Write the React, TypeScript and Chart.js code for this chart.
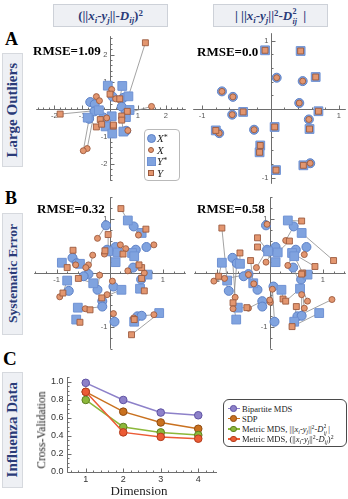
import React, { useEffect, useRef } from "react";
import { Chart, registerables } from "chart.js";
Chart.register(...registerables);

type P = [number, number];

// ---------- Panel A (large outliers): ground truth X*, Y* ----------
const aTrueX: P[] = [[0.09,0.46],[0.47,0.41],[-0.71,0.26],[-0.55,0.18],[0.42,0.09],[-0.56,-0.08],[0.56,-0.15],[-0.75,-0.35],[-0.24,-0.30],[0.58,-0.79]];
const aTrueY: P[] = [[-0.08,0.86],[0.44,0.85],[0.66,0.47],[-0.40,-0.04],[0.70,-0.03],[-0.80,-0.31],[0.06,-0.26],[0.57,-0.29],[-0.15,-0.53],[-0.16,-0.63],[0.48,-0.82],[0.08,-0.89]];
// Panel A left fit (X, Y)
const aFitXLeft: P[] = [[0.06,0.72],[0.30,0.36],[-0.49,0.46],[-0.38,0.31],[0.20,0.38],[-0.82,-1.44],[1.49,0.10],[-0.96,-1.52],[-0.12,-0.32],[0.64,-0.78]];
const aFitYLeft: P[] = [[0.0,0.55],[0.35,0.38],[1.27,2.43],[-1.79,-0.18],[0.62,-0.08],[-0.49,-0.65],[-0.35,-0.38],[0.42,-0.25],[0.12,-0.62],[-0.30,-0.55],[0.42,-0.40],[0.12,-0.58]];
// Panel A right fit (X, Y)
const aFitXRight: P[] = [[0.09,0.46],[0.47,0.41],[-0.71,0.26],[-0.55,0.18],[0.42,0.09],[-0.56,-0.08],[0.56,-0.15],[-0.75,-0.35],[-0.24,-0.30],[0.58,-0.79]];
const aFitYRight: P[] = [[-0.08,0.86],[0.44,0.85],[0.66,0.47],[-0.40,-0.04],[0.70,-0.03],[-0.80,-0.31],[0.06,-0.26],[0.57,-0.29],[-0.15,-0.53],[-0.16,-0.63],[0.48,-0.82],[0.08,-0.89]];

// ---------- Panel B (systematic error): ground truth X*, Y* ----------
const bTrueX: P[] = [[-0.07,0.88],[0.45,0.86],[0.69,0.48],[0.49,0.43],[0.11,0.48],[-0.05,0.43],[-0.70,0.28],[-0.62,0.18],[0.44,0.10],[-0.40,-0.02],[-0.49,-0.06],[0.59,-0.12],[0.07,-0.25],[-0.23,-0.31],[-0.77,-0.33],[-0.14,-0.52],[-0.14,-0.62],[0.09,-0.90],[0.52,-0.80],[0.60,-0.79]];
const bTrueY: P[] = [[0.34,0.97],[0.60,0.74],[-0.03,0.40],[0.15,0.38],[0.42,0.37],[0.46,0.31],[0.11,0.20],[-0.90,0.19],[-0.56,0.17],[0.71,-0.03],[-0.80,-0.14],[-0.31,-0.19],[0.22,-0.31],[0.57,-0.29],[-0.60,-0.64],[-0.63,-0.86],[0.93,-0.74],[0.46,-0.90]];
// Panel B left fit
const bFitXLeft: P[] = [[-0.23,0.64],[0.54,0.70],[0.83,0.52],[0.30,0.45],[0.20,0.52],[-0.10,0.35],[-0.64,0.15],[-0.40,0.15],[0.34,0.04],[-0.32,0.33],[-0.45,0.10],[0.65,0.0],[0.05,-0.15],[-0.19,-0.04],[-0.94,-0.44],[-0.05,-0.40],[-0.46,-0.66],[0.07,-0.75],[0.83,-0.77],[0.45,-0.83]];
const bFitYLeft: P[] = [[0.21,1.19],[0.68,0.81],[-0.03,0.71],[0.25,0.35],[0.60,0.10],[0.55,0.15],[-0.09,0.41],[-0.80,0.10],[-0.69,0.42],[0.60,-0.10],[-0.88,-0.37],[-0.59,-0.10],[-0.15,-0.46],[0.65,-0.33],[-0.37,-0.68],[-0.56,-0.91],[0.41,-1.14],[0.46,-0.86]];
// Panel B right fit
const bFitXRight: P[] = [[-0.05,0.90],[0.30,0.60],[0.65,0.34],[0.34,0.14],[-0.07,0.20],[-0.25,0.10],[-0.65,-0.45],[-0.69,-0.66],[0.71,-0.52],[-1.05,-0.15],[-0.40,-0.03],[0.65,-0.65],[0.01,-0.54],[-0.30,-0.20],[-0.85,-0.10],[-0.40,-0.65],[0.0,-0.50],[0.05,-0.30],[1.17,-0.49],[0.60,-0.40]];
const bFitYRight: P[] = [[0.60,0.96],[1.20,0.23],[-0.23,0.65],[0.37,0.59],[0.85,0.12],[0.62,0.0],[-0.23,0.48],[-0.96,-0.06],[-0.56,0.37],[0.60,-0.02],[-0.90,0.83],[-0.36,0.23],[0.25,-0.48],[0.30,-0.52],[-0.43,-0.64],[-0.69,-0.55],[0.42,-0.99],[0.50,-0.62]];

const rmseLabels = ["RMSE=1.09", "RMSE=0.0", "RMSE=0.32", "RMSE=0.58"];

// ---------- Panel C (influenza data) ----------
const dimensions = [1, 2, 3, 4];
const cvBipartite = [0.99, 0.80, 0.66, 0.63];
const cvSDP = [0.89, 0.67, 0.55, 0.48];
const cvMetricAbs = [0.80, 0.50, 0.44, 0.41];
const cvMetricSq = [0.89, 0.44, 0.39, 0.37];
const cTickLabelsY = ["0.0", "0.2", "0.4", "0.6", "0.8", "1.0"];

const BLUE = "#80a3df";
const BLUE_EDGE = "#5c80c6";
const ORANGE = "#e3966f";
const ORANGE_EDGE = "#9c5a3e";
const NAVY = "#2a3b78";

const mmaAxes = {
  id: "mmaAxes",
  beforeDatasetsDraw(chart: any, _args: any, opts: any) {
    const mode = opts && opts.mode;
    if (!mode) return;
    const ctx = chart.ctx;
    const xs = chart.scales.x;
    const ys = chart.scales.y;
    const px = (v: number) => xs.getPixelForValue(v);
    const py = (v: number) => ys.getPixelForValue(v);
    const r = (v: number) => Math.round(v) + 0.5;
    ctx.save();
    ctx.strokeStyle = "#6e6e6e";
    ctx.lineWidth = 1;
    ctx.fillStyle = opts.labelColor || "#555";
    ctx.font = opts.font;
    if (mode === "cross") {
      const x0 = r(px(0));
      const y0 = r(py(0));
      ctx.beginPath();
      ctx.moveTo(xs.left, y0); ctx.lineTo(xs.right, y0);
      ctx.moveTo(x0, ys.top); ctx.lineTo(x0, ys.bottom);
      for (let i = Math.ceil(xs.min * 5); i <= Math.floor(xs.max * 5); i++) {
        if (i === 0) continue;
        const len = i % 5 === 0 ? 4 : 2;
        const x = r(px(i / 5));
        ctx.moveTo(x, y0); ctx.lineTo(x, y0 - len);
      }
      for (let i = Math.ceil(ys.min * 5); i <= Math.floor(ys.max * 5); i++) {
        if (i === 0) continue;
        const len = i % 5 === 0 ? 4 : 2;
        const y = r(py(i / 5));
        ctx.moveTo(x0, y); ctx.lineTo(x0 + len, y);
      }
      ctx.stroke();
      ctx.textAlign = "center"; ctx.textBaseline = "top";
      for (let k = Math.ceil(xs.min); k <= Math.floor(xs.max); k++) {
        if (k === 0) continue;
        ctx.fillText(String(k), px(k), y0 + 3);
      }
      ctx.textAlign = "right"; ctx.textBaseline = "middle";
      for (let k = Math.ceil(ys.min); k <= Math.floor(ys.max); k++) {
        if (k === 0) continue;
        ctx.fillText(String(k), x0 - 3, py(k));
      }
    } else if (mode === "frame") {
      const xl = r(xs.left);
      const yb = r(ys.bottom);
      ctx.beginPath();
      ctx.moveTo(xl, ys.top); ctx.lineTo(xl, yb); ctx.lineTo(xs.right, yb);
      for (let i = 0; i <= Math.floor(ys.max * 20 + 1e-6); i++) {
        const len = i % 4 === 0 ? 4 : 2;
        const y = r(py(i / 20));
        ctx.moveTo(xl, y); ctx.lineTo(xl + len, y);
      }
      for (let i = Math.ceil(xs.min * 5 + 1e-6); i <= Math.floor(xs.max * 5 - 1e-6); i++) {
        const len = i % 5 === 0 ? 4 : 2;
        const x = r(px(i / 5));
        ctx.moveTo(x, yb); ctx.lineTo(x, yb - len);
      }
      ctx.stroke();
      ctx.textAlign = "right"; ctx.textBaseline = "middle";
      cTickLabelsY.forEach((t) => ctx.fillText(t, xl - 4, py(parseFloat(t))));
      ctx.textAlign = "center"; ctx.textBaseline = "top";
      dimensions.forEach((d) => ctx.fillText(String(d), px(d), yb + 3));
    }
    ctx.restore();
  },
};

const toPts = (a: P[]) => a.map(([x, y]) => ({ x, y }));
function segments(a: P[], b: P[]) {
  const out: any[] = [];
  const n = Math.min(a.length, b.length);
  for (let i = 0; i < n; i++) {
    out.push({ x: a[i][0], y: a[i][1] }, { x: b[i][0], y: b[i][1] }, { x: null, y: null });
  }
  return out;
}

function baseOptions(xr: number[], yr: number[], pad: any, axes: any) {
  return {
    animation: false,
    responsive: false,
    devicePixelRatio: 1,
    events: [],
    layout: { padding: pad },
    plugins: { legend: { display: false }, tooltip: { enabled: false }, mmaAxes: axes },
    scales: {
      x: { type: "linear", min: xr[0], max: xr[1], display: false },
      y: { type: "linear", min: yr[0], max: yr[1], display: false },
    },
  };
}

function scatterConfig(tX: P[], tY: P[], fX: P[], fY: P[], xr: number[], yr: number[]) {
  return {
    type: "scatter",
    data: {
      datasets: [
        { data: [...segments(tX, fX), ...segments(tY, fY)], showLine: true, spanGaps: false, pointRadius: 0, borderColor: "#8c8c8c", borderWidth: 0.8, order: 5, clip: false },
        { data: toPts(tX), pointStyle: "circle", pointRadius: 4.5, backgroundColor: BLUE, borderColor: BLUE_EDGE, borderWidth: 1, order: 4, clip: false },
        { data: toPts(tY), pointStyle: "rect", pointRadius: 6.2, backgroundColor: BLUE, borderColor: "#6f92d4", borderWidth: 1, order: 3, clip: false },
        { data: toPts(fX), pointStyle: "circle", pointRadius: 3, backgroundColor: ORANGE, borderColor: ORANGE_EDGE, borderWidth: 0.9, order: 2, clip: false },
        { data: toPts(fY), pointStyle: "rect", pointRadius: 4.2, backgroundColor: ORANGE, borderColor: ORANGE_EDGE, borderWidth: 0.9, order: 1, clip: false },
      ],
    },
    options: baseOptions(xr, yr, 6, { mode: "cross", font: "7.5px 'Liberation Sans'", labelColor: "#555" }),
    plugins: [mmaAxes],
  };
}

const cSeries = [
  { values: cvBipartite, color: "#8d81c9", edge: "#5f52a3" },
  { values: cvSDP, color: "#c9711f", edge: "#8f4c12" },
  { values: cvMetricAbs, color: "#8cb83a", edge: "#5d7f1f" },
  { values: cvMetricSq, color: "#ec5b35", edge: "#b23c1c" },
];

function cConfig() {
  return {
    type: "scatter",
    data: {
      datasets: cSeries.map((s, i) => ({
        data: dimensions.map((d, k) => ({ x: d, y: s.values[k] })),
        showLine: true,
        borderColor: s.color,
        borderWidth: 1.5,
        pointRadius: 3.8,
        pointBackgroundColor: s.color,
        pointBorderColor: s.edge,
        pointBorderWidth: 1,
        order: 4 - i,
        clip: false,
      })),
    },
    options: baseOptions([0.5, 4.5], [0, 1.055], { left: 37, top: 7, right: 4, bottom: 18 }, { mode: "frame", font: "9px 'Liberation Sans'", labelColor: "#333" }),
    plugins: [mmaAxes],
  };
}

function ChartBox(props: { left: number; top: number; width: number; height: number; make: () => any }) {
  const ref = useRef<HTMLCanvasElement>(null);
  useEffect(() => {
    const chart = new Chart(ref.current as HTMLCanvasElement, props.make());
    return () => chart.destroy();
  }, []);
  return (
    <canvas
      ref={ref}
      width={props.width}
      height={props.height}
      style={{ position: "absolute", left: props.left, top: props.top, width: props.width, height: props.height }}
    />
  );
}

// chart area rectangle -> canvas with 6px padding
function Scatter(props: { L: number; T: number; W: number; H: number; make: () => any }) {
  return <ChartBox left={props.L - 6} top={props.T - 6} width={props.W + 12} height={props.H + 12} make={props.make} />;
}

const sub = (t: string, italic = true) => (
  <span style={{ fontSize: "0.68em", verticalAlign: "-0.32em", lineHeight: 0, fontStyle: italic ? "italic" : "normal" }}>{t}</span>
);
const sup = (t: string) => <span style={{ fontSize: "0.68em", verticalAlign: "0.5em", lineHeight: 0 }}>{t}</span>;
const stack = (top: string, bottom: string, w: string) => (
  <span style={{ position: "relative", display: "inline-block", width: w, height: "0.7em" }}>
    <span style={{ position: "absolute", left: "0.05em", top: "-0.3em", fontSize: "0.62em", lineHeight: 1, fontStyle: "normal" }}>{top}</span>
    <span style={{ position: "absolute", left: "0.05em", top: "0.9em", fontSize: "0.62em", lineHeight: 1, fontStyle: "italic" }}>{bottom}</span>
  </span>
);
const it = (t: string) => <span style={{ fontStyle: "italic" }}>{t}</span>;

const headerBox: React.CSSProperties = {
  position: "absolute", top: 4, width: 115, height: 23, boxSizing: "border-box",
  background: "#eef0f4", border: "1px solid #cdd1d8", display: "flex", alignItems: "center", justifyContent: "center",
  fontFamily: "'Liberation Serif', serif", fontWeight: "bold", fontSize: 13, color: NAVY, whiteSpace: "nowrap",
};

function SideLabel(props: { top: number; height: number; text: string; size: number }) {
  return (
    <div style={{ position: "absolute", left: 2, top: props.top, width: 21, height: props.height, boxSizing: "border-box", background: "#eef0f4", border: "1px solid #d6d9de", display: "flex", alignItems: "center", justifyContent: "center" }}>
      <div style={{ writingMode: "vertical-rl", transform: "rotate(180deg)", fontFamily: "'Liberation Serif', serif", fontWeight: "bold", fontSize: props.size, color: NAVY, whiteSpace: "nowrap", lineHeight: 1 }}>{props.text}</div>
    </div>
  );
}

function Letter(props: { text: string; left: number; top: number; size: number }) {
  return <div style={{ position: "absolute", left: props.left, top: props.top, fontFamily: "'Liberation Serif', serif", fontWeight: "bold", fontSize: props.size, lineHeight: 1, color: "#000" }}>{props.text}</div>;
}

function Rmse(props: { text: string; left: number; top: number }) {
  return <div style={{ position: "absolute", left: props.left, top: props.top, fontFamily: "'Liberation Serif', serif", fontWeight: "bold", fontSize: 13, lineHeight: 1, color: "#000", whiteSpace: "nowrap" }}>{props.text}</div>;
}

function Marker(props: { cx: number; cy: number; size: number; round: boolean; fill: string; edge: string }) {
  return (
    <div style={{ position: "absolute", left: props.cx - props.size / 2, top: props.cy - props.size / 2, width: props.size, height: props.size, boxSizing: "border-box", background: props.fill, border: `1px solid ${props.edge}`, borderRadius: props.round ? "50%" : 0 }} />
  );
}

const aLegend = [
  { label: "X", star: true, round: true, size: 9, fill: BLUE, edge: BLUE_EDGE },
  { label: "X", star: false, round: true, size: 6, fill: ORANGE, edge: ORANGE_EDGE },
  { label: "Y", star: true, round: false, size: 9, fill: BLUE, edge: "#6f92d4" },
  { label: "Y", star: false, round: false, size: 6, fill: ORANGE, edge: ORANGE_EDGE },
];

const cLegend = [
  { color: "#8d81c9", edge: "#5f52a3", label: <span>Bipartite MDS</span> },
  { color: "#c9711f", edge: "#8f4c12", label: <span>SDP</span> },
  { color: "#8cb83a", edge: "#5d7f1f", label: <span>Metric MDS, |||{it("x")}{sub("i")}-{it("y")}{sub("j")}||{sup("2")}-{it("D")}{stack("2", "ij", "0.55em")}|</span> },
  { color: "#ec5b35", edge: "#b23c1c", label: <span>Metric MDS, (||{it("x")}{sub("i")}-{it("y")}{sub("j")}||{sup("2")}-{it("D")}{sub("ij")}){sup("2")}</span> },
];

export default function App() {
  return (
    <div style={{ position: "fixed", left: 0, top: 0, width: 348, height: 499, overflow: "hidden", background: "#fff" }}>
      {/* column headers */}
      <div style={{ ...headerBox, left: 53 }}>
        <span>(||{it("x")}{sub("i")}-{it("y")}{sub("j")}||-{it("D")}{sub("ij")}){sup("2")}</span>
      </div>
      <div style={{ ...headerBox, left: 213 }}>
        <span>|&nbsp;||{it("x")}{sub("i")}-{it("y")}{sub("j")}||{sup("2")}-{it("D")}{stack("2", "ij", "0.6em")}&nbsp;|</span>
      </div>

      <Letter text="A" left={5} top={30} size={18} />
      <Letter text="B" left={5} top={188.5} size={18} />
      <Letter text="C" left={3} top={348.5} size={19} />

      <SideLabel top={53} height={114} text="Large Outliers" size={15} />
      <SideLabel top={213} height={122} text="Systematic Error" size={13.5} />
      <SideLabel top={372} height={116} text="Influenza Data" size={15} />

      {/* Panel A */}
      <Scatter L={35} T={35} W={152} H={147} make={() => scatterConfig(aTrueX, aTrueY, aFitXLeft, aFitYLeft, [-2.65, 2.72], [-2.62, 2.67])} />
      <Scatter L={192} T={32} W={155} H={153} make={() => scatterConfig(aTrueX, aTrueY, aFitXRight, aFitYRight, [-1.13, 1.10], [-1.09, 1.11])} />
      <Rmse text={rmseLabels[0]} left={33} top={43.5} />
      <Rmse text={rmseLabels[1]} left={197} top={45} />

      {/* Panel A legend */}
      <div style={{ position: "absolute", left: 144, top: 129, width: 36, height: 52, boxSizing: "border-box", border: "1px solid #b9b9b9", borderRadius: 4, background: "#fff" }} />
      {aLegend.map((e, i) => {
        const cy = 138 + i * 11.5;
        return (
          <React.Fragment key={i}>
            <Marker cx={151} cy={cy} size={e.size} round={e.round} fill={e.fill} edge={e.edge} />
            <div style={{ position: "absolute", left: 157, top: cy - 6, fontFamily: "'Liberation Serif', serif", fontStyle: "italic", fontSize: 11, lineHeight: "12px", color: "#222" }}>
              {e.label}{e.star ? <span style={{ fontStyle: "normal", fontSize: 8, verticalAlign: "0.25em" }}>*</span> : null}
            </div>
          </React.Fragment>
        );
      })}

      {/* Panel B */}
      <Scatter L={33} T={196} W={154} H={154} make={() => scatterConfig(bTrueX, bTrueY, bFitXLeft, bFitYLeft, [-1.42, 1.43], [-1.4, 1.4])} />
      <Scatter L={193} T={196} W={154} H={154} make={() => scatterConfig(bTrueX, bTrueY, bFitXRight, bFitYRight, [-1.42, 1.43], [-1.4, 1.4])} />
      <Rmse text={rmseLabels[2]} left={37} top={202.4} />
      <Rmse text={rmseLabels[3]} left={197} top={201.6} />

      {/* Panel C */}
      <ChartBox left={30} top={370} width={192} height={120} make={cConfig} />
      <div style={{ position: "absolute", left: 41.5, top: 430, transform: "translate(-50%, -50%) rotate(-90deg)", fontFamily: "'Liberation Serif', serif", fontSize: 11.5, lineHeight: 1, whiteSpace: "nowrap", color: "#222" }}>Cross-Validation</div>
      <div style={{ position: "absolute", left: 139, top: 490, transform: "translate(-50%, -50%)", fontFamily: "'Liberation Serif', serif", fontSize: 13, lineHeight: 1, whiteSpace: "nowrap", color: "#222" }}>Dimension</div>

      {/* Panel C legend */}
      <div style={{ position: "absolute", left: 223, top: 399, width: 124, height: 48, boxSizing: "border-box", border: "1px solid #4a4a4a", borderRadius: 6, background: "#fff" }} />
      {cLegend.map((e, i) => {
        const cy = 408.5 + i * 10.2;
        return (
          <React.Fragment key={i}>
            <div style={{ position: "absolute", left: 227.5, top: cy - 0.75, width: 12, height: 1.5, background: e.color }} />
            <Marker cx={233.5} cy={cy} size={6.5} round={true} fill={e.color} edge={e.edge} />
            <div style={{ position: "absolute", left: 242, top: cy - 5, fontFamily: "'Liberation Serif', serif", fontSize: 8.5, lineHeight: "10px", color: "#222", whiteSpace: "nowrap" }}>{e.label}</div>
          </React.Fragment>
        );
      })}
    </div>
  );
}
